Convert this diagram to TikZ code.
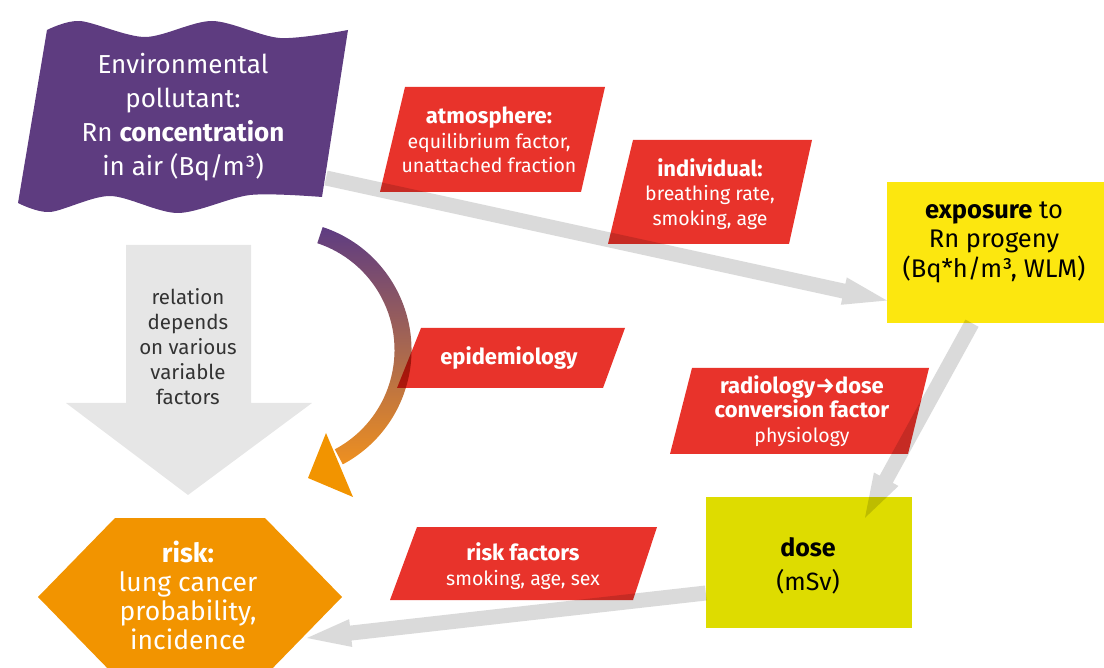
\documentclass[tikz,border=0pt]{standalone}
\usepackage{fontspec}
\setmainfont{Fira Sans}
\usetikzlibrary{arrows.meta,calc}
\definecolor{eupurple}{HTML}{5E3C80}
\definecolor{eured}{HTML}{E8332B}
\definecolor{euorange}{HTML}{F29400}
\definecolor{euyellow}{HTML}{FCE70F}
\definecolor{eudose}{HTML}{DEDC00}
\definecolor{bigarrow}{HTML}{E6E6E6}
\definecolor{linegray}{HTML}{DADADA}
\definecolor{txtgray}{HTML}{333333}
\definecolor{curvetop}{HTML}{5E3C82}
\definecolor{curvemid}{HTML}{A0607A}
\definecolor{curvebot}{HTML}{EE9020}
\tikzset{
  txt/.style={align=center, inner sep=0pt},
  wtxt/.style={txt, text=white},
  redbox/.style={fill=eured},
  flagfont/.style={font=\fontsize{26}{34}\selectfont},
  redfont/.style={font=\fontsize{19.5}{24.5}\selectfont},
  bigfont/.style={font=\fontsize{25.5}{29.5}\selectfont},
}
\newcommand{\rbold}[1]{\textbf{\fontsize{22}{24.5}\selectfont #1}}
% gray connector: shaft 15pt wide, triangular head 28pt wide, 44pt long
\newcommand{\grayarrow}[2]{%
  \coordinate (#1-b) at ($(#2)!44pt!(#1)$);
  \fill[linegray] ($(#1)!7.5pt!90:(#2)$) -- ($(#1-b)!7.5pt!90:(#2)$) -- ($(#1-b)!14pt!90:(#2)$)
    -- (#2) -- ($(#1-b)!14pt!-90:(#2)$) -- ($(#1-b)!7.5pt!-90:(#2)$) -- ($(#1)!7.5pt!-90:(#2)$) -- cycle;}
\begin{document}
\begin{tikzpicture}[x=1pt,y=-1pt]
\useasboundingbox (0,0) rectangle (1104,668);
% flag
\fill[eupurple] plot[smooth] coordinates {(47,30) (80,21) (145,37) (212,21) (280,38) (348,30)}
  -- plot[smooth] coordinates {(322,197) (250,195) (178,213) (110,196) (50,212) (18,203)} -- cycle;
% big gray arrow
\fill[bigarrow] (126,245) -- (251,245) -- (251,403) -- (312,403) -- (188,495) -- (66,403) -- (126,403) -- cycle;
% risk hexagon
\fill[euorange] (38,597) -- (115,518) -- (265,518) -- (342,597) -- (265,676) -- (115,676) -- cycle;
% boxes
\node[fill=euyellow, minimum width=217pt, minimum height=141pt, inner sep=0pt] (exposure) at (995.5,252.5) {};
\node[fill=eudose, minimum width=206pt, minimum height=131pt, inner sep=0pt] (dose) at (809,562.5) {};
% red parallelograms
\fill[redbox] (405,87) -- (605,87) -- (581,192) -- (380,192) -- cycle;
\fill[redbox] (633,140) -- (812,140) -- (789,244) -- (608,244) -- cycle;
\fill[redbox] (421,328) -- (625,328) -- (603,388) -- (397,388) -- cycle;
\fill[redbox] (692,368) -- (929,368) -- (908,454) -- (670,454) -- cycle;
\fill[redbox] (417,527) -- (657,527) -- (633,600) -- (390,600) -- cycle;
% texts
\node[wtxt, flagfont] (flag) at (183,117) {Environmental\\pollutant:\\Rn \textbf{concentration}\\in air (Bq/m³)};
\node[txt, text=txtgray, font=\fontsize{20.5}{25}\selectfont] (relation) at (188,347) {relation\\depends\\on various\\variable\\factors};
\node[wtxt, redfont] (atm) at (489,140) {\rbold{atmosphere:}\\equilibrium factor,\\unattached fraction};
\node[wtxt, redfont] (ind) at (710,194) {\rbold{individual:}\\breathing rate,\\smoking, age};
\node[wtxt, redfont] (epi) at (509,358) {\rbold{epidemiology}};
\node[wtxt, redfont] (rad) at (802,411) {\rbold{radiology→dose}\\\rbold{conversion factor}\\physiology};
\node[wtxt, redfont] (rf) at (523,566) {\rbold{risk factors}\\smoking, age, sex};
\node[txt, bigfont] (exptext) at (994,242) {\textbf{exposure} to\\Rn progeny\\(Bq*h/m³, WLM)};
\node[txt, font=\fontsize{25}{34}\selectfont] (dosetext) at (808,566) {\textbf{dose}\\(mSv)};
\node[wtxt, font=\fontsize{26.5}{29}\selectfont] (risk) at (188,595) {\textbf{risk:}\\lung cancer\\probability,\\incidence};
% connector end points, taken from the named nodes
\coordinate (a1s) at ([xshift=143pt,yshift=-61pt]flag.center);
\coordinate (a1e) at ([yshift=-48pt]exposure.west);
\coordinate (a2s) at ([xshift=-23.5pt]exposure.south);
\coordinate (a2e) at ([xshift=56pt,yshift=-21pt]dose.north);
\coordinate (a3s) at ([yshift=-30.5pt]dose.west);
\coordinate (a3e) at ([xshift=119pt,yshift=-43pt]risk.center);
% overlay connectors
\begin{scope}[blend mode=multiply]
  \coordinate (cc) at (282,350);
  \shade[top color=curvetop, middle color=curvemid, bottom color=curvebot]
    ($(cc)+(-71.7:129.5)$) arc[start angle=-71.7, end angle=62, radius=129.5]
    -- ($(cc)+(62:112.5)$) arc[start angle=62, end angle=-71.7, radius=112.5] -- cycle;
  \grayarrow{a1s}{a1e}
  \grayarrow{a2s}{a2e}
  \grayarrow{a3s}{a3e}
\end{scope}
\fill[euorange] (326,433) -- (308,478) -- (353,497) -- cycle;
\end{tikzpicture}
\end{document}
